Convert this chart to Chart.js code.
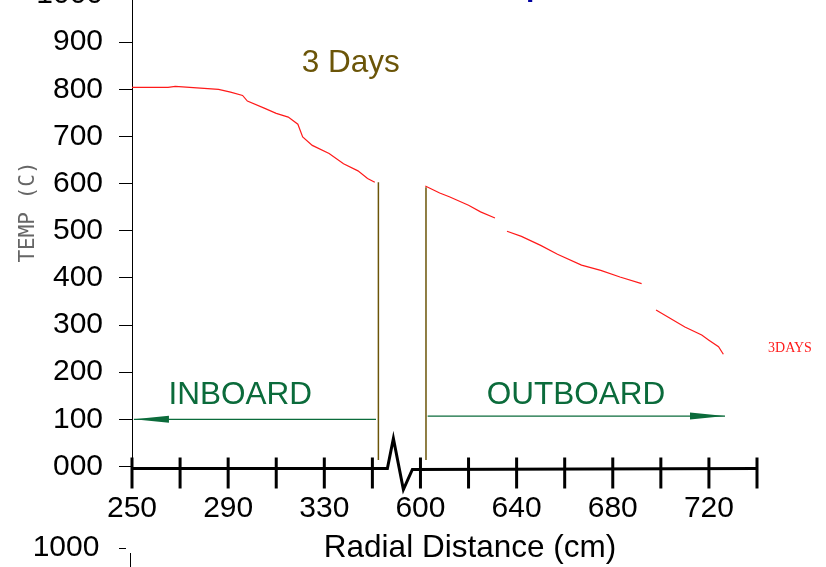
<!DOCTYPE html>
<html>
<head>
<meta charset="utf-8">
<script src="https://cdn.jsdelivr.net/npm/chart.js@4"></script>
<style>
  html, body { margin: 0; padding: 0; background: #fff; overflow: hidden; }
  body { width: 826px; height: 567px; position: relative; }
  #wrap { position: absolute; left: 0; top: -39px; width: 826px; height: 606px; }
</style>
</head>
<body>
<div id="wrap"><canvas id="tempChart" width="826" height="606"></canvas></div>
<script>
// Radial distance (cm) and temperature (C)
const inboardR = [250, 265, 268, 277, 286, 291, 296, 298, 305, 310, 315, 319, 321, 325, 332, 338, 344, 348, 351];
const inboardT = [804, 804, 806, 803, 800, 794, 787, 775, 760, 749, 741, 726, 699, 681, 664, 642, 627, 611, 603];

// nulls are the gaps in the printed curve
const outboardR = [602, 608, 612, 620, 625, 631, 633, 636, 642, 650, 657, 667, 675, 683, 692, 695, 698, 704, 710, 717, 720, 724, 726];
const outboardT = [595, 580, 572, 554, 540, 527, null, 499, 488, 469, 450, 427, 416, 402, 388, null, 332, 314, 296, 279, 268, 254, 238];

// region boundaries (brown) and INBOARD / OUTBOARD arrows
const boundaryR = [352.5, 602.3];
const boundaryTop = [603, 592];
const boundaryBottom = [14, 14];
const arrowFrom = [351.5, 603];
const arrowTo = [250.8, 726.7];
const arrowTemp = [100, 107];

// axis ticks
const yTickLabels = ['000', '100', '200', '300', '400', '500', '600', '700', '800', '900', '1000'];
const xTickLabels = ['250', '', '290', '', '330', '', '600', '', '640', '', '680', '', '720', ''];

// the axis is broken between 370 and 600 cm
const GAP = 230;
function toPlot(r) {
    return r >= 600 ? r - GAP : r;
}

function points(rs, ts) {
    return rs.map((r, i) => ({ x: toPlot(r), y: ts[i] }));
}

const RED = '#ff1a1a';
const GREEN = '#0b6b3b';
const BROWN = '#6b5508';
const FONT = 'Liberation Sans, Arial, sans-serif';
const OFF = 39; // canvas is shifted up so the top label is cut like the original

const datasets = [
    { data: points(inboardR, inboardT), borderColor: RED, borderWidth: 1.2 },
    { data: points(outboardR, outboardT), borderColor: RED, borderWidth: 1.2, spanGaps: false }
];
boundaryR.forEach((r, i) => {
    datasets.push({
        data: [{ x: toPlot(r), y: boundaryTop[i] }, { x: toPlot(r), y: boundaryBottom[i] }],
        borderColor: BROWN, borderWidth: 1.5
    });
});
arrowFrom.forEach((r, i) => {
    datasets.push({
        data: [{ x: toPlot(r), y: arrowTemp[i] }, { x: toPlot(arrowTo[i]), y: arrowTemp[i] }],
        borderColor: GREEN, borderWidth: 1.2
    });
});
datasets.forEach(d => { d.pointRadius = 0; d.tension = 0; d.fill = false; });

// broken x axis, arrow heads and the free texts
const decorations = {
    id: 'decorations',
    afterDraw(chart) {
        const ctx = chart.ctx;
        const xs = chart.scales.x;
        const ys = chart.scales.y;
        const y0 = ys.getPixelForValue(0) + 2;
        const pBreak = xs.getPixelForValue(350);

        ctx.save();
        ctx.strokeStyle = '#000';
        ctx.lineWidth = 3;
        ctx.lineJoin = 'miter';
        ctx.beginPath();
        ctx.moveTo(xs.left, y0);
        ctx.lineTo(pBreak + 15, y0);
        ctx.lineTo(pBreak + 21, y0 - 30);
        ctx.lineTo(pBreak + 31, y0 + 21);
        ctx.lineTo(pBreak + 40, y0 + 1);
        ctx.lineTo(xs.right, y0);
        ctx.stroke();

        xs.ticks.forEach(t => {
            const px = xs.getPixelForValue(t.value);
            ctx.beginPath();
            ctx.moveTo(px, y0 - 11);
            ctx.lineTo(px, y0 + 20);
            ctx.stroke();
        });

        // arrow heads
        ctx.fillStyle = GREEN;
        arrowTo.forEach((r, i) => {
            const tip = xs.getPixelForValue(toPlot(r));
            const dir = r > arrowFrom[i] ? -1 : 1;
            const py = ys.getPixelForValue(arrowTemp[i]);
            ctx.beginPath();
            ctx.moveTo(tip, py);
            ctx.lineTo(tip + dir * 35, py - 3.5);
            ctx.lineTo(tip + dir * 35, py + 3.5);
            ctx.closePath();
            ctx.fill();
        });

        ctx.textAlign = 'center';
        ctx.textBaseline = 'middle';
        ctx.font = '31.5px ' + FONT;
        ctx.fillStyle = BROWN;
        ctx.fillText('3 Days', xs.getPixelForValue(341), ys.getPixelForValue(855));
        ctx.fillStyle = GREEN;
        ctx.fillText('INBOARD', xs.getPixelForValue(295), ys.getPixelForValue(152));
        ctx.fillText('OUTBOARD', xs.getPixelForValue(434.7), ys.getPixelForValue(152));

        ctx.fillStyle = RED;
        ctx.font = '14px Liberation Serif, Times New Roman, serif';
        ctx.fillText('3DAYS', xs.getPixelForValue(523.7), ys.getPixelForValue(251));

        // x axis title, centred where the original has it
        ctx.fillStyle = '#000';
        ctx.font = '31.5px ' + FONT;
        ctx.fillText('Radial Distance (cm)', 470, 548 + OFF);

        // stray label below the axes
        ctx.font = '30px ' + FONT;
        ctx.fillText('1000', 66, 548 + OFF);
        ctx.lineWidth = 1;
        ctx.beginPath();
        ctx.moveTo(119, 548.5 + OFF);
        ctx.lineTo(126, 548.5 + OFF);
        ctx.moveTo(130.5, 553 + OFF);
        ctx.lineTo(130.5, 567 + OFF);
        ctx.stroke();

        // y axis title
        ctx.save();
        ctx.translate(29, 212 + OFF);
        ctx.rotate(-Math.PI / 2);
        ctx.fillStyle = '#666';
        ctx.font = '21px DejaVu Sans Mono, monospace';
        ctx.fillText('TEMP (C)', 0, 0);
        ctx.restore();

        // bottom of the clipped title
        ctx.fillStyle = '#0000a0';
        ctx.font = 'bold 30px ' + FONT;
        ctx.textAlign = 'left';
        ctx.textBaseline = 'alphabetic';
        ctx.fillText('p', 526, OFF - 4);
        ctx.restore();
    }
};

new Chart(document.getElementById('tempChart'), {
    type: 'line',
    data: { datasets: datasets },
    options: {
        responsive: false,
        animation: false,
        events: [],
        layout: { padding: { left: 32, right: 69, top: 0, bottom: 0 } },
        plugins: { legend: { display: false }, tooltip: { enabled: false } },
        scales: {
            x: {
                type: 'linear',
                min: 250,
                max: 510,
                afterFit: s => { s.height = 100.5; },
                grid: { display: false, drawTicks: false },
                border: { display: false },
                ticks: {
                    stepSize: 20,
                    autoSkip: false,
                    maxRotation: 0,
                    padding: 24,
                    color: '#000',
                    font: { family: FONT, size: 30 },
                    callback: (v, i) => xTickLabels[i]
                }
            },
            y: {
                min: 0,
                max: 1000,
                afterFit: s => { s.width = 100; },
                grid: { drawOnChartArea: false, drawTicks: true, tickLength: 13, color: '#000' },
                border: { display: true, color: '#000', width: 1 },
                ticks: {
                    stepSize: 100,
                    padding: 16,
                    color: '#000',
                    font: { family: FONT, size: 30 },
                    callback: (v, i) => yTickLabels[i]
                }
            }
        }
    },
    plugins: [decorations]
});
</script>
</body>
</html>
